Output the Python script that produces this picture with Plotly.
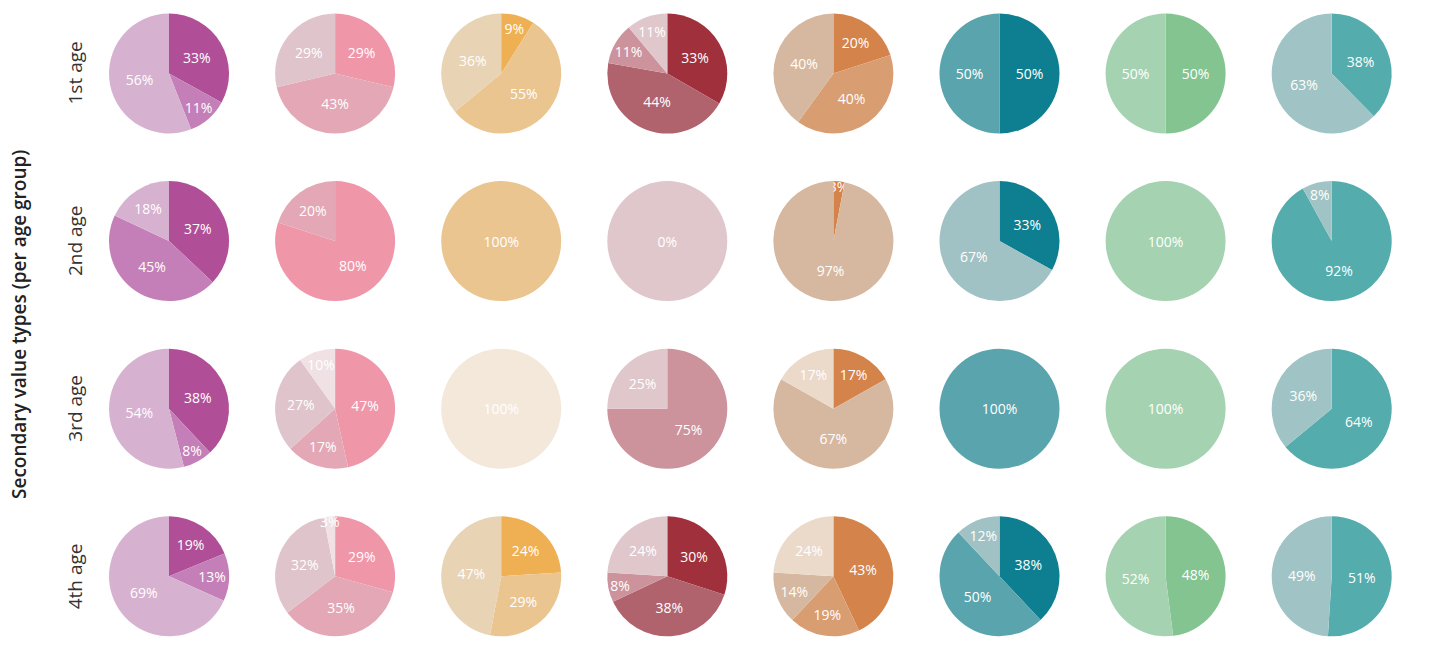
import plotly.graph_objects as go

W, H = 1431, 652

age_groups = ["1st age", "2nd age", "3rd age", "4th age"]
axis_title = "Secondary value types (per age group)"

# Values per column (one list per age group, one entry per shade, clockwise from 12 o'clock)
purple_vals = [[33, 11, 56], [37, 45, 18], [38, 8, 54], [19, 13, 69]]
pink_vals = [[29, 43, 29, 0], [80, 20, 0, 0], [47, 17, 27, 10], [29, 35, 32, 3]]
amber_vals = [[9, 55, 36, 0], [0, 100, 0, 0], [0, 0, 0, 100], [24, 29, 47, 0]]
red_vals = [[33, 44, 11, 11], [0, 0, 0, 0], [0, 0, 75, 25], [30, 38, 8, 24]]
copper_vals = [[20, 40, 40, 0], [3, 0, 97, 0], [17, 0, 67, 17], [43, 19, 14, 24]]
teal_vals = [[50, 50, 0], [33, 0, 67], [0, 100, 0], [38, 50, 12]]
green_vals = [[50, 50], [0, 100], [0, 100], [48, 52]]
sea_vals = [[38, 63], [92, 8], [64, 36], [51, 49]]

purple_cols = ["#b04f97", "#c47fb8", "#d7b2d0"]
pink_cols = ["#f096a9", "#e3a7b5", "#e0c4cb", "#f0e1e5"]
amber_cols = ["#efb053", "#ebc590", "#e9d3b5", "#f4e8da"]
red_cols = ["#a0303c", "#b0636d", "#cc939d", "#dfc7cc"]
copper_cols = ["#d4834b", "#d99d72", "#d6b8a0", "#ebd9ca"]
teal_cols = ["#0e7f90", "#5aa5ad", "#a1c2c4"]
green_cols = ["#83c490", "#a5d3b1"]
sea_cols = ["#55acac", "#a0c4c5"]

columns = [
    (purple_vals, purple_cols), (pink_vals, pink_cols), (amber_vals, amber_cols),
    (red_vals, red_cols), (copper_vals, copper_cols), (teal_vals, teal_cols),
    (green_vals, green_cols), (sea_vals, sea_cols),
]

# layout geometry (pixels)
x0, dx = 169, 166.1
y0, dy = 73.5, 167.6
R = 60

fig = go.Figure()
for j, (vals_by_row, cols) in enumerate(columns):
    for i, vals in enumerate(vals_by_row):
        if sum(vals) > 0:
            idx = [k for k, v in enumerate(vals) if v > 0]
            values = [vals[k] for k in idx]
            text = [f"{vals[k]}%" for k in idx]
            colors = [cols[k] for k in idx]
        else:
            values = [1]
            text = ["0%"]
            colors = [cols[-1]]
        cx = x0 + j * dx
        cy = y0 + i * dy
        fig.add_trace(go.Pie(
            values=values,
            text=text,
            textinfo="text",
            textposition="inside",
            insidetextorientation="horizontal",
            marker=dict(colors=colors, line=dict(width=0)),
            sort=False,
            direction="clockwise",
            rotation=0,
            showlegend=False,
            hoverinfo="text",
            textfont=dict(color="white", size=14, family="Open Sans"),
            domain=dict(x=[(cx - R) / W, (cx + R) / W],
                        y=[1 - (cy + R) / H, 1 - (cy - R) / H]),
        ))

annotations = []
for i, lab in enumerate(age_groups):
    cy = y0 + i * dy
    annotations.append(dict(
        text=lab, x=75 / W, y=1 - cy / H, xref="paper", yref="paper",
        textangle=-90, showarrow=False, xanchor="center", yanchor="middle",
        font=dict(family="Open Sans", size=19, color="#333333"),
    ))
annotations.append(dict(
    text=axis_title, x=19 / W, y=1 - 325 / H, xref="paper", yref="paper",
    textangle=-90, showarrow=False, xanchor="center", yanchor="middle",
    font=dict(family="Open Sans", size=19, color="#222222", weight=600),
))

fig.update_layout(
    width=W, height=H,
    margin=dict(l=0, r=0, t=0, b=0),
    paper_bgcolor="white", plot_bgcolor="white",
    annotations=annotations,
    uniformtext=dict(minsize=14, mode="show"),
)

fig.write_html("out.html")
